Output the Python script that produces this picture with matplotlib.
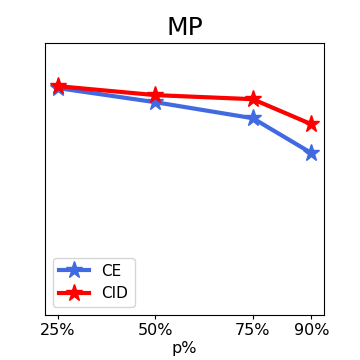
import matplotlib
matplotlib.use('Agg')
import matplotlib.pyplot as plt

# data
p_values = [25, 50, 75, 90]
p_labels = ['25%', '50%', '75%', '90%']
ce = [0.835, 0.783, 0.724, 0.596]
cid = [0.842, 0.809, 0.794, 0.702]

fig, ax = plt.subplots(figsize=(3.6, 3.6), dpi=100)
ax.plot(p_values, ce, color='royalblue', marker='*', markersize=12.5, linewidth=3, label='CE')
ax.plot(p_values, cid, color='red', marker='*', markersize=12.5, linewidth=3, label='CID')

ax.set_ylim(0, 1)
ax.set_yticks([])
ax.set_xticks(p_values)
ax.set_xticklabels(p_labels, fontsize=11.5)
ax.tick_params(axis='x', length=3, pad=2.5)
ax.set_xlabel('p%', fontsize=11.5, labelpad=2.5)
ax.set_title('MP', fontsize=18)
ax.legend(loc='lower left', fontsize=11)

fig.subplots_adjust(left=0.125, right=0.9, top=0.88, bottom=0.125)
fig.savefig('out.png')
